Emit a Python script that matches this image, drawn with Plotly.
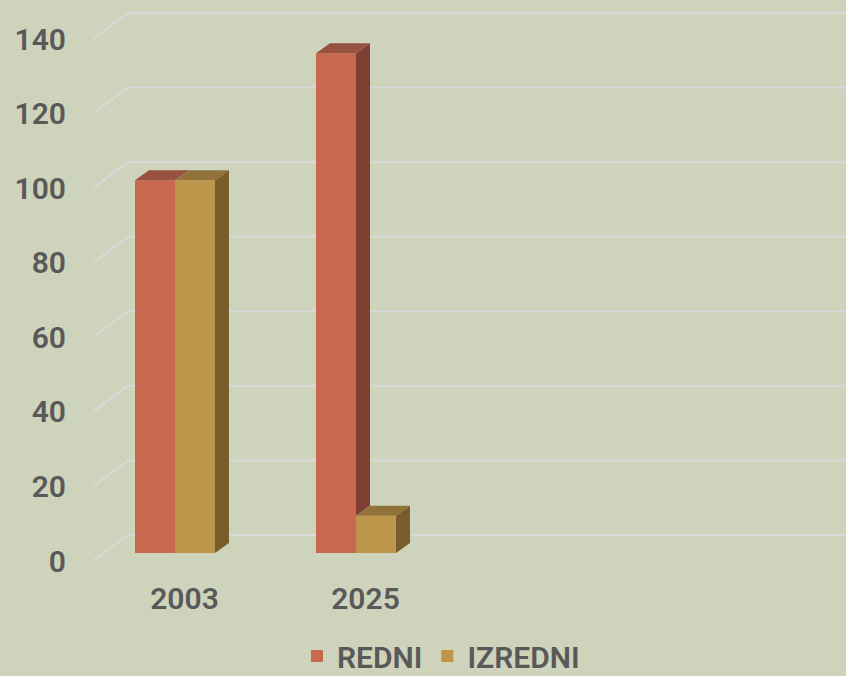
import plotly.graph_objects as go

# ---------------- data ----------------
categories = ["2003", "2025"]
series_names = ["REDNI", "IZREDNI"]
redni = [100, 134]
izredni = [100, 10]
y_ticks = [0, 20, 40, 60, 80, 100, 120, 140]

# ---------------- style / geometry constants ----------------
W, H = 846, 676
ML, MR, MT, MB = 80, 0, 0, 115
plot_w = W - ML - MR
plot_h = H - MT - MB
PPU = 522 / 140.0          # pixels per value unit
PPC = 181.0                # pixels per category
cat0_px = 175 - ML         # pixel of first category centre inside plot

x_range = [-cat0_px / PPC, (plot_w - cat0_px) / PPC]
y_range = [0, plot_h / PPU]

wall_left = (93 - 175) / PPC
wall_dx = 35 / PPC
wall_dy = 26 / PPU
bar_w = 40 / PPC
bar_dx = 14 / PPC
bar_dy = 10 / PPU
bar_base = 8 / PPU
LEGEND_DROP = 6            # push legend toward the bottom edge while keeping text inside

BG = "#CED3BB"
GRID = "#D9D9D9"
TXT = "#595959"
front = ["#C8694F", "#BE964B"]
top = ["#96513F", "#91733A"]
side = ["#7E3F32", "#7A5D2D"]
FONT = "Roboto"
WEIGHT = 600

values = [redni, izredni]

fig = go.Figure()

# front faces (real bars)
for s, name in enumerate(series_names):
    fig.add_trace(go.Bar(
        x=list(range(len(categories))), y=values[s], base=bar_base,
        name=name, marker=dict(color=front[s], line=dict(width=0)),
        hoverinfo="skip",
    ))

# side & top faces computed from data
for i in range(len(categories)):
    for s in range(len(series_names)):
        v = values[s][i]
        xl = i - bar_w + s * bar_w
        xr = xl + bar_w
        h = v + bar_base
        if s + 1 < len(series_names):
            low = max(values[s + 1][i], 0) + bar_base
        else:
            low = bar_base
        if h > low:
            fig.add_trace(go.Scatter(
                x=[xr, xr + bar_dx, xr + bar_dx, xr, xr],
                y=[low, low + bar_dy, h + bar_dy, h, low],
                fill="toself", fillcolor=side[s], mode="lines",
                line=dict(width=0, color=side[s]), showlegend=False,
                hoverinfo="skip"))
        fig.add_trace(go.Scatter(
            x=[xl, xl + bar_dx, xr + bar_dx, xr, xl],
            y=[h, h + bar_dy, h + bar_dy, h, h],
            fill="toself", fillcolor=top[s], mode="lines",
            line=dict(width=0, color=top[s]), showlegend=False,
            hoverinfo="skip"))

# back-wall gridlines with depth diagonal
shapes = []
for v in y_ticks:
    path = "M {} {} L {} {} L {} {}".format(
        wall_left, v, wall_left + wall_dx, v + wall_dy, x_range[1], v + wall_dy)
    shapes.append(dict(type="path", path=path, xref="x", yref="y",
                       line=dict(color=GRID, width=2), layer="below"))

tfont = dict(size=30, color=TXT, family=FONT, weight=WEIGHT)

fig.update_layout(
    width=W, height=H, autosize=False,
    margin=dict(l=ML, r=MR, t=MT, b=MB, pad=0),
    paper_bgcolor=BG, plot_bgcolor=BG,
    barmode="group", bargap=1 - 2 * bar_w, bargroupgap=0,
    shapes=shapes,
    font=tfont,
    showlegend=True,
    legend=dict(orientation="h", xref="container", yref="container",
                xanchor="left", x=(297 / W), yanchor="bottom", y=0,
                font=tfont, bgcolor="rgba(0,0,0,0)", itemclick=False),
    hovermode=False,
)
fig.update_xaxes(range=x_range, tickvals=[i + 9.5 / PPC for i in range(len(categories))],
                 ticktext=categories, showgrid=False, zeroline=False, showline=False,
                 ticks="", ticklabelstandoff=17, tickfont=tfont)
fig.update_yaxes(range=y_range, tickvals=y_ticks, showgrid=False, zeroline=False,
                 showline=False, ticks="", ticklabelstandoff=13, tickfont=tfont)

post = ("document.body.style.margin='0';document.body.style.padding='0';"
        "document.body.style.overflow='hidden';"
        "var gd=document.getElementById('{plot_id}');"
        "Plotly.relayout(gd,{width:%d,height:%d}).then(function(){"
        "var lg=gd.querySelector('g.legend');"
        "if(lg){var t=lg.getAttribute('transform')||'';"
        "var m=t.match(/translate\\(([-\\d.e]+)[ ,]+([-\\d.e]+)\\)/);"
        "if(m){lg.setAttribute('transform','translate('+m[1]+','+(parseFloat(m[2])+%d)+')');}}"
        "});" % (W, H, LEGEND_DROP))

fig.write_html("out.html", post_script=post,
               config={"responsive": False, "displayModeBar": False})
